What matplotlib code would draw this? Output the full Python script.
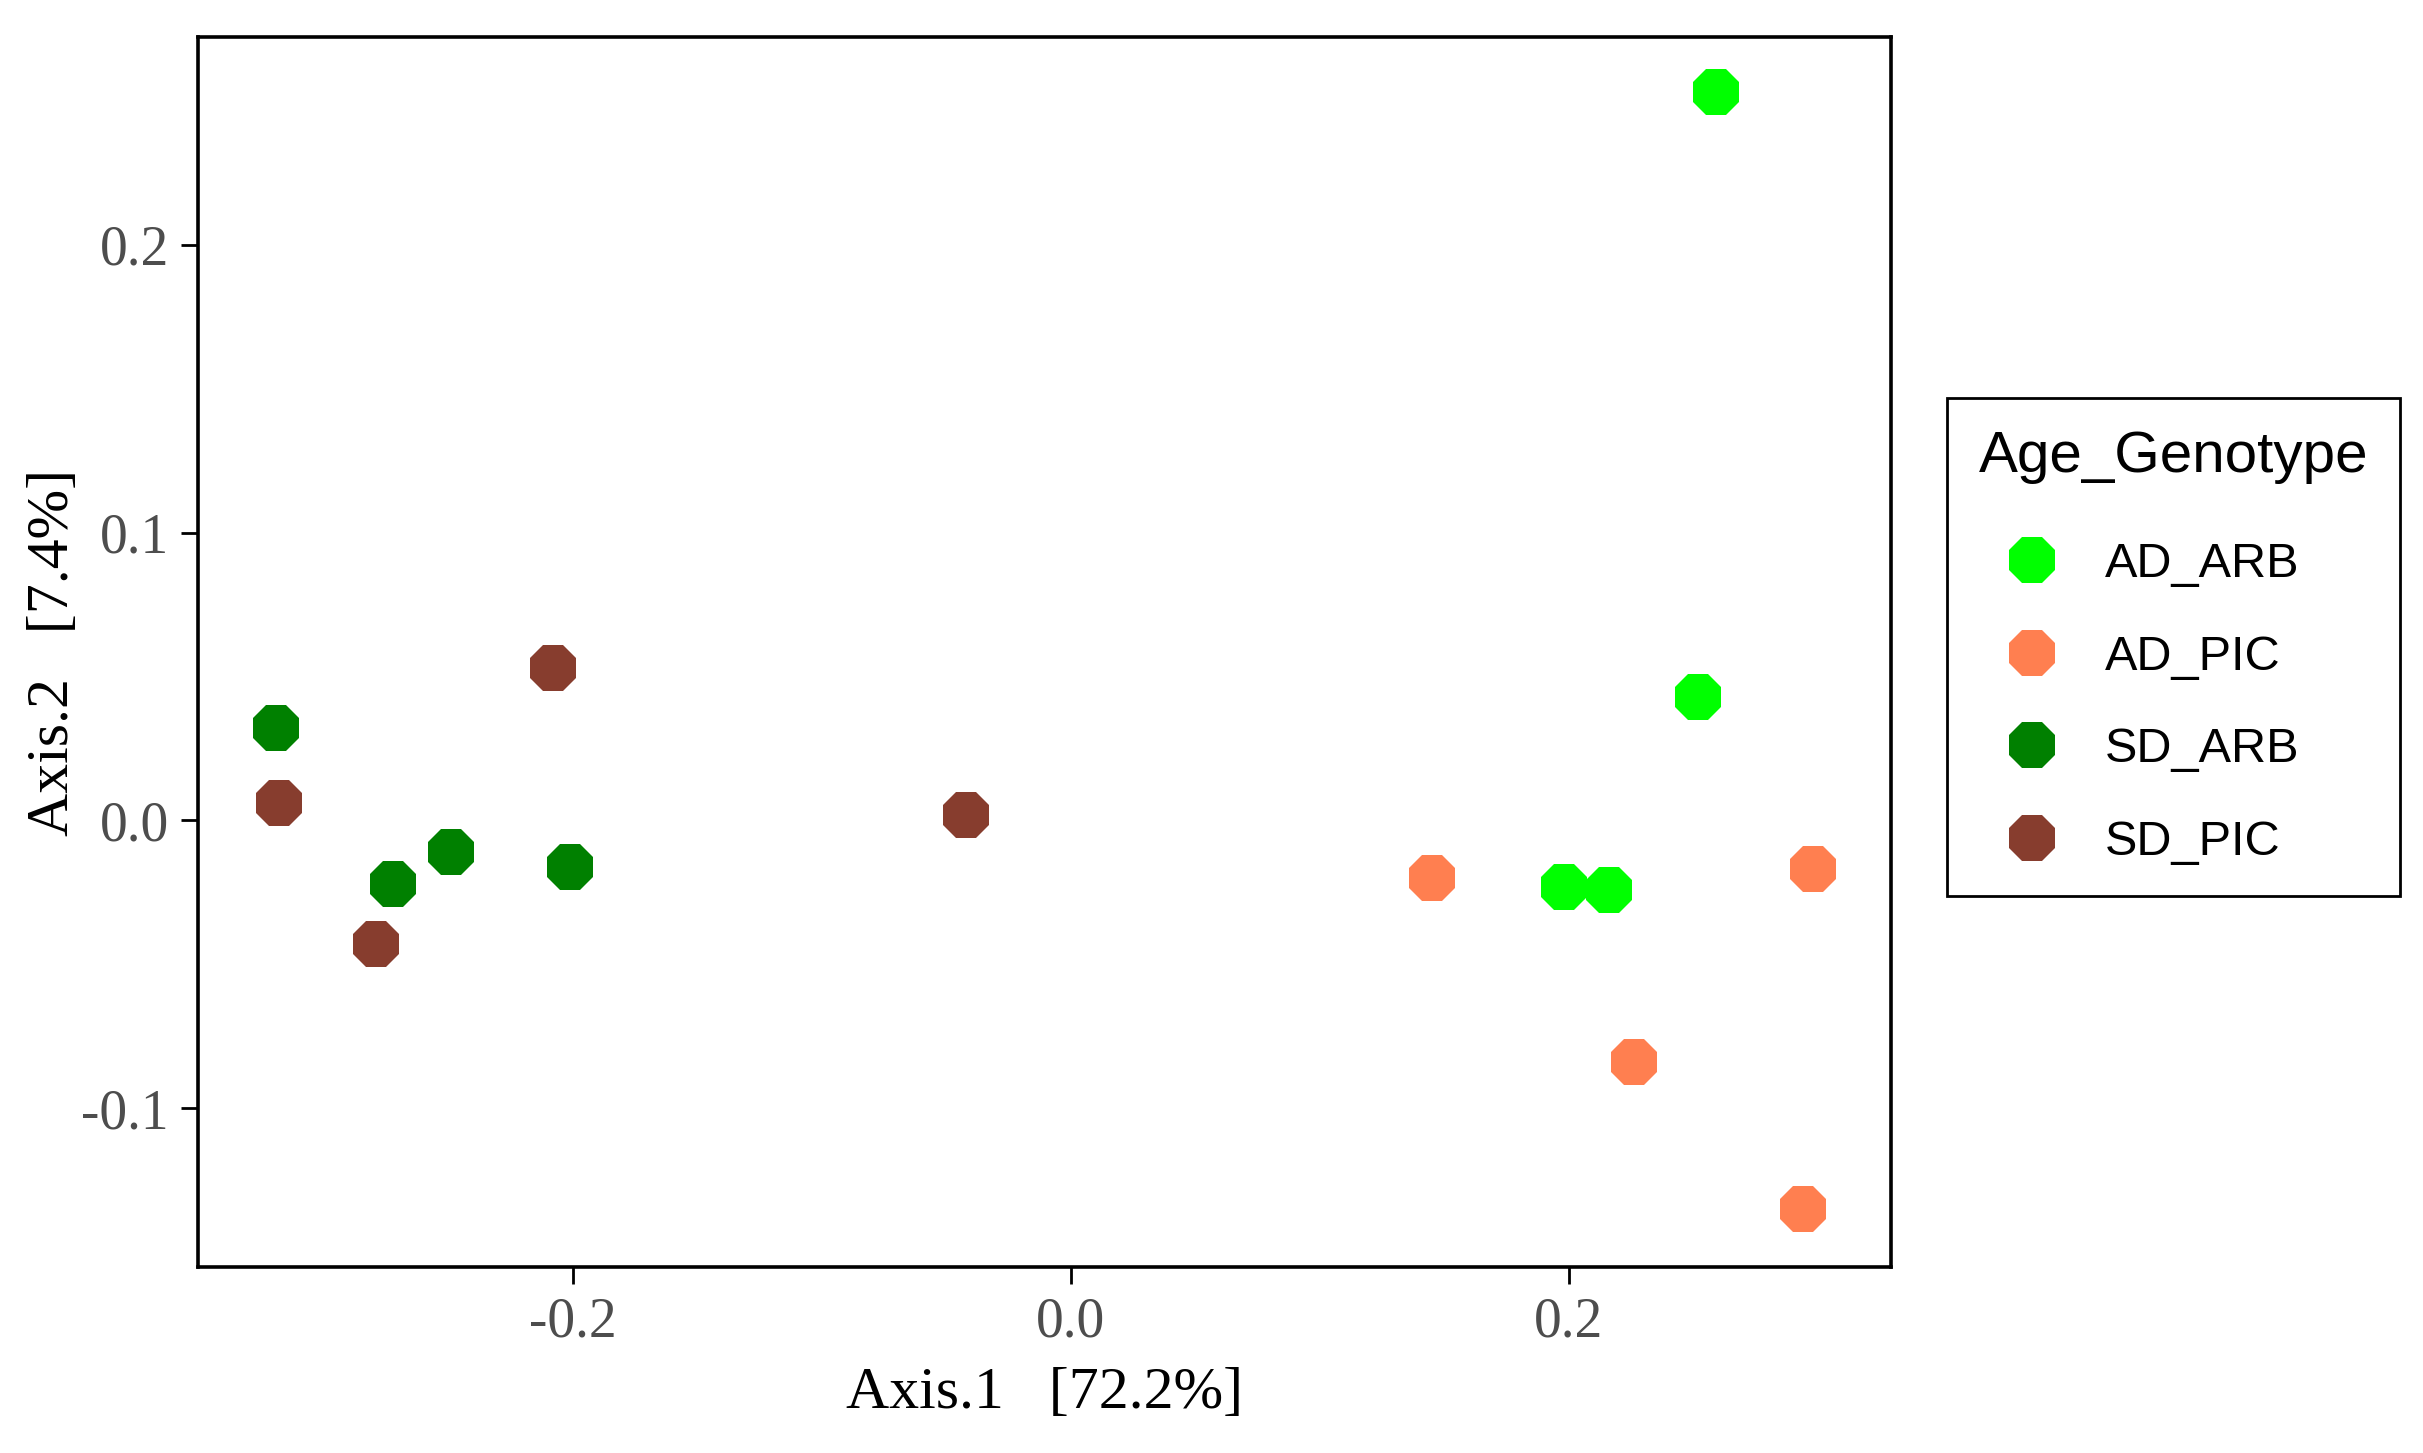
import matplotlib
matplotlib.use("Agg")
import matplotlib.pyplot as plt

plt.rcParams['axes.unicode_minus'] = False

groups = ["AD_ARB", "AD_PIC", "SD_ARB", "SD_PIC"]
colors = ["#00FF00", "#FF7F50", "#008000", "#873D2E"]

ad_arb_x = [0.259, 0.252, 0.198, 0.216]
ad_arb_y = [0.253, 0.043, -0.023, -0.024]
ad_pic_x = [0.145, 0.298, 0.226, 0.294]
ad_pic_y = [-0.020, -0.017, -0.084, -0.135]
sd_arb_x = [-0.319, -0.272, -0.249, -0.201]
sd_arb_y = [0.032, -0.022, -0.011, -0.016]
sd_pic_x = [-0.318, -0.279, -0.208, -0.042]
sd_pic_y = [0.006, -0.043, 0.053, 0.002]

xs = [ad_arb_x, ad_pic_x, sd_arb_x, sd_pic_x]
ys = [ad_arb_y, ad_pic_y, sd_arb_y, sd_pic_y]

fig = plt.figure(figsize=(24.23, 14.53), dpi=100)
ax = fig.add_axes([0.0817, 0.1280, 0.6987, 0.8465])

for name, c, x, y in zip(groups, colors, xs, ys):
    ax.plot(x, y, linestyle="none", marker="8", markersize=36,
            markerfacecolor=c, markeredgewidth=0, label=name)

ax.set_xlim(-0.3504, 0.3293)
ax.set_ylim(-0.1551, 0.2721)
ax.set_xticks([-0.2, 0.0, 0.2])
ax.set_yticks([-0.1, 0.0, 0.1, 0.2])
ax.set_xticklabels(["-0.2", "0.0", "0.2"])
ax.set_yticklabels(["-0.1", "0.0", "0.1", "0.2"])

for s in ax.spines.values():
    s.set_linewidth(2.6)
ax.tick_params(length=12, width=2, colors="black", labelcolor="#4D4D4D",
               labelsize=40, pad=9)
for lab in ax.get_xticklabels() + ax.get_yticklabels():
    lab.set_family("Liberation Serif")

ax.set_xlabel("Axis.1   [72.2%]", family="Liberation Serif", fontsize=43)
ax.set_ylabel("Axis.2   [7.4%]", family="Liberation Serif", fontsize=43)
ax.xaxis.set_label_coords(0.5, -0.103)
ax.xaxis.label.set_va("center")
ax.yaxis.set_label_coords(-0.085, 0.5)
ax.yaxis.label.set_va("center")

leg = ax.legend(title="Age_Genotype", loc="upper left",
                bbox_to_anchor=(1947 / 2423, 1 - 398 / 1453),
                bbox_transform=fig.transFigure, borderaxespad=0,
                prop={"family": "Liberation Sans", "size": 35},
                title_fontsize=42, fancybox=False, edgecolor="black",
                borderpad=0.65, handlelength=2.2, handletextpad=0.4,
                labelspacing=0.98, alignment="left")
leg.get_frame().set_linewidth(2)
leg.get_frame().set_alpha(None)
leg.get_title().set_family("Liberation Sans")
# wider gap between the title and the first entry
leg._legend_box.sep = 42

fig.savefig("out.png", dpi=100)
